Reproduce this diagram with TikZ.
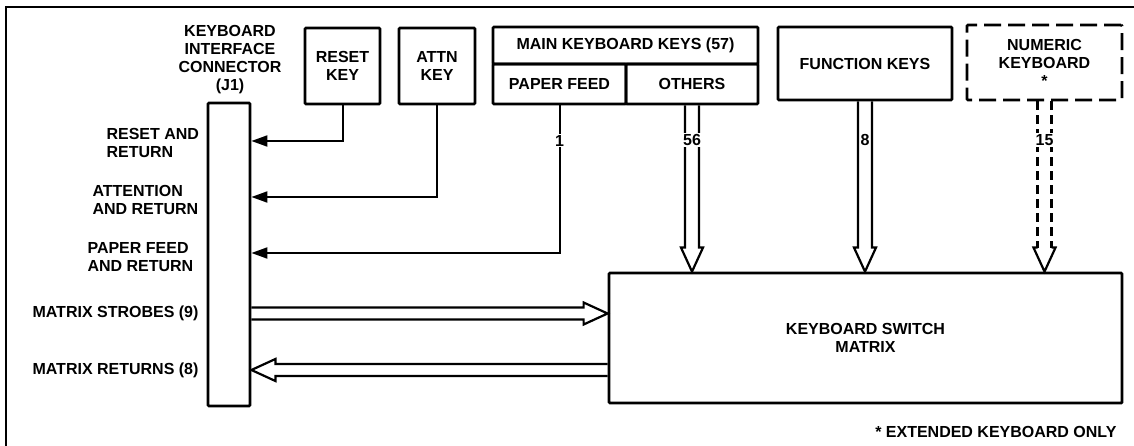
\documentclass[tikz,border=0pt]{standalone}
\usepackage{fontspec}
\setmainfont{Liberation Sans}
\usetikzlibrary{calc,positioning,arrows.meta}

\tikzset{
  keybox/.style={draw,line width=2.8pt,rounded corners=1pt,align=center,inner sep=0pt},
  sig/.style={line width=2pt,-{Triangle[length=16pt,width=11pt]}},
  bus/.style={line width=2.2pt,line join=miter},
  numlbl/.style={fill=white,inner sep=1pt},
  busdown/.style={to path={($(\tikztostart)+(-7,0)$) -- ($(\tikztotarget)+(-7,-24)$) -- ++(-4,0)
    -- (\tikztotarget) -- ($(\tikztotarget)+(11,-24)$) -- ++(-4,0) -- ($(\tikztostart)+(7,0)$)}},
  busright/.style={to path={($(\tikztostart)+(0,-6)$) -- ($(\tikztotarget)+(-24,-6)$) -- ++(0,-5)
    -- (\tikztotarget) -- ($(\tikztotarget)+(-24,11)$) -- ++(0,-5) -- ($(\tikztostart)+(0,6)$)}},
  busleft/.style={to path={($(\tikztostart)+(0,-6)$) -- ($(\tikztotarget)+(24,-6)$) -- ++(0,-5)
    -- (\tikztotarget) -- ($(\tikztotarget)+(24,11)$) -- ++(0,-5) -- ($(\tikztostart)+(0,6)$)}}
}

\begin{document}
\begin{tikzpicture}[x=1pt,y=-1pt,font=\fontsize{16}{18}\selectfont\bfseries]
\useasboundingbox (0,0) rectangle (1134,446);
% outer frame
\draw[line width=2pt] (6,446) -- (6,7) -- (1134,7);

% connector J1
\node[align=center] (jlbl) at (230,60) {KEYBOARD\\INTERFACE\\CONNECTOR\\(J1)};
\node[keybox,minimum width=42,minimum height=303] (bar) at (229,254.5) {};

% keys
\node[keybox,minimum width=75,minimum height=76] (rkey) at (342.5,66) {RESET\\KEY};
\node[keybox,minimum width=76,minimum height=76] (akey) at (437,66) {ATTN\\KEY};
\node[keybox,minimum width=265,minimum height=37] (mkeys) at (625.5,45.5) {MAIN KEYBOARD KEYS (57)};
\node[keybox,minimum width=133,minimum height=40] (pfeed) at (559.5,84) {PAPER FEED};
\node[keybox,minimum width=132,minimum height=40] (others) at (692,84) {OTHERS};
\node[keybox,minimum width=174,minimum height=73] (fkeys) at (865,63.5) {FUNCTION KEYS};
\node[keybox,dash pattern=on 17pt off 7pt,minimum width=155,minimum height=75] (nkeys) at (1044.5,62.5) {NUMERIC\\KEYBOARD\\*};

% switch matrix
\node[keybox,minimum width=513,minimum height=130] (mtx) at (865.5,338) {KEYBOARD SWITCH\\MATRIX};

% signal names
\node[anchor=west,align=left] (rlbl) at (103,143) {RESET AND\\RETURN};
\node[anchor=west,align=left] (albl) at (89,200) {ATTENTION\\AND RETURN};
\node[anchor=west,align=left] (plbl) at (84,257.5) {PAPER FEED\\AND RETURN};
\node[anchor=east] (slbl) at (202,313.5) {MATRIX STROBES (9)};
\node[anchor=east] (mrlbl) at (202,370) {MATRIX RETURNS (8)};

% single lines
\draw[sig] (rkey.south) |- (bar.east |- 0,141);
\draw[sig] (akey.south) |- (bar.east |- 0,197);
\draw[sig] (pfeed.south) |- node[numlbl,pos=0.12] (n1) {1} (bar.east |- 0,253);

% bus ends
\coordinate (t56) at (others.south |- mtx.north);
\coordinate (t8) at (fkeys.south |- mtx.north);
\coordinate (t15) at (nkeys.south |- mtx.north);
\coordinate (sbs) at (bar.east |- 0,313.5);
\coordinate (sbe) at (mtx.west |- 0,313.5);
\coordinate (rts) at (mtx.west |- 0,370);
\coordinate (rte) at (bar.east |- 0,370);

% buses
\draw[bus] (others.south) to[busdown] (t56);
\draw[bus] (fkeys.south) to[busdown] (t8);
\draw[bus,dash pattern=on 9pt off 5pt] ($(nkeys.south)+(-7,0)$) -- ($(t15)+(-7,-24)$)
  ($(nkeys.south)+(7,0)$) -- ($(t15)+(7,-24)$);
\draw[bus] ($(t15)+(-7,-24)$) -- ++(-4,0) -- (t15) -- ++(11,-24) -- ++(-4,0);
\draw[bus] (sbs) to[busright] (sbe);
\draw[bus] (rts) to[busleft] (rte);

\node[numlbl] (n56) at (others.south |- 0,140) {56};
\node[numlbl] (n8) at (fkeys.south |- 0,140) {8};
\node[numlbl] (n15) at (nkeys.south |- 0,140) {15};

% note
\node[anchor=east] (fnote) at (1120,432) {* EXTENDED KEYBOARD ONLY};
\end{tikzpicture}
\end{document}
